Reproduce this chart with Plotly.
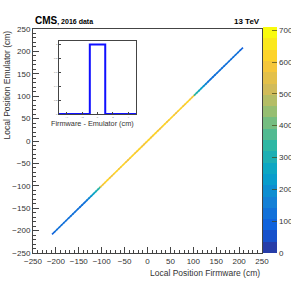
import plotly.graph_objects as go
import numpy as np

# ---------------- data ----------------
positions = [-205, -200, -195, -190, -185, -180, -175, -170, -165, -160, -155, -150,
             -145, -140, -135, -130, -125, -120, -115, -110, -105,
             -100, -95, -90, -85, -80, -75, -70, -65, -60, -55, -50, -45, -40, -35,
             -30, -25, -20, -15, -10, -5, 0, 5, 10, 15, 20, 25, 30, 35, 40, 45, 50,
             55, 60, 65, 70, 75, 80, 85, 90, 95, 100,
             105, 110, 115, 120, 125, 130, 135, 140, 145, 150, 155, 160, 165, 170,
             175, 180, 185, 190, 195, 200, 205]
counts = [100, 110, 112, 115, 118, 116, 120, 118, 122, 120, 124, 122,
          125, 130, 140, 160, 200, 235, 265, 290, 320,
          590, 600, 605, 610, 600, 595, 605, 610, 600, 605, 610, 600, 595, 605,
          610, 600, 605, 610, 600, 595, 605, 610, 600, 605, 610, 600, 595, 605,
          610, 600, 605, 610, 600, 595, 605, 610, 600, 605, 610, 600, 590,
          320, 290, 265, 235, 200, 160, 140, 130, 125, 122, 124, 120, 122, 118,
          120, 116, 118, 115, 112, 110, 100]

inset_edges = [-5, -3, -1, 1, 3, 5]
inset_values = [0, 0, 1, 0, 0]

cbar_ticks = [0, 100, 200, 300, 400, 500, 600, 700]

# ---------------- palette (ROOT kBird, 20 contours) ----------------
stops = [0.0, 0.125, 0.25, 0.375, 0.5, 0.625, 0.75, 0.875, 1.0]
red = [0.2082, 0.0592, 0.0780, 0.0232, 0.1802, 0.5301, 0.8186, 0.9956, 0.9764]
green = [0.1664, 0.3599, 0.5041, 0.6419, 0.7178, 0.7492, 0.7328, 0.7862, 0.9832]
blue = [0.5293, 0.8684, 0.8385, 0.7914, 0.6425, 0.4662, 0.3499, 0.1968, 0.0539]


def pal(k):
    t = k / 254.0
    r = np.interp(t, stops, red)
    g = np.interp(t, stops, green)
    b = np.interp(t, stops, blue)
    return "rgb(%d,%d,%d)" % (round(r * 255), round(g * 255), round(b * 255))


ncont = 20
colorscale = []
for i in range(ncont):
    c = pal(int((i + 0.99) * 255 / ncont))
    colorscale.append([i / ncont, c])
    colorscale.append([(i + 1) / ncont, c])

zmax = 710
font = "Liberation Sans, Arial, sans-serif"
axcol = "#444"

fig = go.Figure()

fig.add_trace(go.Scatter(
    x=positions, y=positions, mode="markers",
    marker=dict(symbol="line-ne", size=3.2, color=counts, cmin=0, cmax=zmax,
                colorscale=colorscale,
                line=dict(width=1.6, color=counts, cmin=0, cmax=zmax,
                          colorscale=colorscale),
                colorbar=dict(x=1.003, xanchor="left", xpad=0, ypad=0,
                              y=0, yanchor="bottom", len=1.01, lenmode="fraction",
                              thickness=14, outlinewidth=0,
                              tickvals=cbar_ticks, ticks="inside", ticklen=5,
                              tickcolor="rgba(70,70,20,0.7)",
                              tickfont=dict(size=8, family=font, color="#333"))),
    showlegend=False, hoverinfo="skip"))

# inset histogram
fig.add_trace(go.Scatter(
    x=inset_edges, y=inset_values + [inset_values[-1]], mode="lines",
    line=dict(color="#1010ff", width=2, shape="hv"),
    xaxis="x2", yaxis="y2", showlegend=False, hoverinfo="skip"))

fig.update_layout(
    width=291, height=282,
    margin=dict(l=33, r=29, t=29, b=29, autoexpand=False),
    paper_bgcolor="white", plot_bgcolor="white",
    font=dict(family=font, size=8, color="#333"),
    xaxis=dict(range=[-250, 250], dtick=50, tick0=0, showgrid=False, zeroline=False,
               showline=True, linecolor=axcol, linewidth=1, mirror=True,
               ticks="inside", ticklen=6, tickcolor=axcol,
               minor=dict(dtick=10, ticks="inside", ticklen=3, tickcolor=axcol),
               tickfont=dict(size=8, family=font, color="#333")),
    yaxis=dict(range=[-250, 250], dtick=50, tick0=0, showgrid=False, zeroline=False,
               showline=True, linecolor=axcol, linewidth=1, mirror=True,
               ticks="inside", ticklen=6, tickcolor=axcol,
               minor=dict(dtick=10, ticks="inside", ticklen=3, tickcolor=axcol),
               tickfont=dict(size=8, family=font, color="#333")),
    xaxis2=dict(domain=[0.1135, 0.45], anchor="y2", range=[-5, 5], showgrid=False,
                zeroline=False, showline=True, linecolor=axcol, linewidth=1, mirror=True,
                ticks="inside", ticklen=2, tickcolor=axcol, dtick=2,
                tickfont=dict(size=2.5, family=font, color="#666")),
    yaxis2=dict(domain=[0.62, 0.946], anchor="x2", range=[0, 1.05], showgrid=False,
                zeroline=False, showline=True, linecolor=axcol, linewidth=1, mirror=True,
                ticks="inside", ticklen=2, tickcolor=axcol, dtick=0.2,
                tickfont=dict(size=2.5, family=font, color="#666")),
    annotations=[
        dict(text="<b>CMS</b><b><span style='font-size:7px'>, 2016 data</span></b>",
             xref="paper", yref="paper", x=0, y=1, xanchor="left", yanchor="bottom",
             yshift=1, showarrow=False, font=dict(size=10, family=font, color="black")),
        dict(text="<b>13 TeV</b>", xref="paper", yref="paper", x=1, y=1,
             xanchor="right", yanchor="bottom", yshift=1, showarrow=False,
             font=dict(size=8, family=font, color="black")),
        dict(text="Local Position Firmware (cm)", xref="paper", yref="paper",
             x=1, y=0, xanchor="right", yanchor="top", yshift=-13, showarrow=False,
             font=dict(size=8.5, family=font, color="#333")),
        dict(text="Local Position Emulator (cm)", xref="paper", yref="paper",
             x=0, y=1, xanchor="right", yanchor="top", xshift=-20, textangle=-90,
             showarrow=False, font=dict(size=8.5, family=font, color="#333")),
        dict(text="Firmware - Emulator (cm)", xref="paper", yref="paper",
             x=0.45, y=0.62, xanchor="right", yanchor="top", yshift=-3, showarrow=False,
             font=dict(size=7.3, family=font, color="#333")),
    ],
)

fig.write_html("out.html", config={"displayModeBar": False},
               post_script="document.body.style.margin='0';document.body.style.padding='0';")
